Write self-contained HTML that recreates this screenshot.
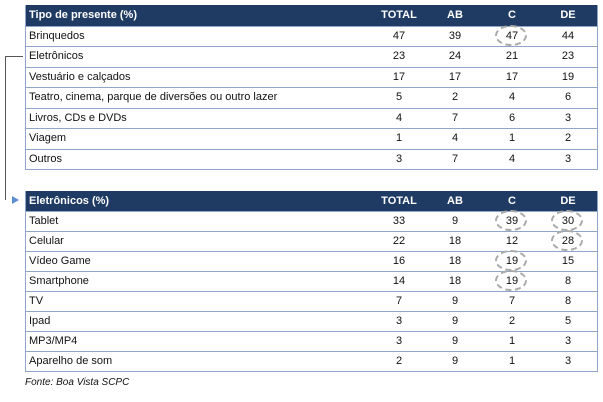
<!DOCTYPE html>
<html><head><meta charset="utf-8"><style>
body{margin:0;width:603px;height:402px;background:#fff;position:relative;font-family:"Liberation Sans",sans-serif;font-size:11px;color:#111;overflow:hidden}
.t{position:absolute;left:25px;width:571px;border:1px solid #8fa6c8;border-top:none}
.r{height:19px;border-top:1px solid #8fa6c8;position:relative;line-height:19px}
#a .r{height:19.5px;line-height:19.5px}
.h{background:#1f3b63;color:#fff;font-weight:bold;border-top:1px solid #1f3b63}
.r span{position:absolute;top:0}
.l{left:3px}
.c{width:40px;text-align:center}
.c1{left:353px}.c2{left:409px}.c3{left:466px}.c4{left:522px}
.o{position:absolute;width:28px;height:17px;border:2px dashed #aaa;border-radius:50%}
</style></head><body>
<div class="t" id="a" style="top:5px">
<div class="r h"><span class="l">Tipo de presente (%)</span><span class="c c1">TOTAL</span><span class="c c2">AB</span><span class="c c3">C</span><span class="c c4">DE</span></div>
<div class="r"><span class="l">Brinquedos</span><span class="c c1">47</span><span class="c c2">39</span><span class="c c3">47</span><span class="c c4">44</span></div>
<div class="r"><span class="l">Eletrônicos</span><span class="c c1">23</span><span class="c c2">24</span><span class="c c3">21</span><span class="c c4">23</span></div>
<div class="r"><span class="l">Vestuário e calçados</span><span class="c c1">17</span><span class="c c2">17</span><span class="c c3">17</span><span class="c c4">19</span></div>
<div class="r"><span class="l">Teatro, cinema, parque de diversões ou outro lazer</span><span class="c c1">5</span><span class="c c2">2</span><span class="c c3">4</span><span class="c c4">6</span></div>
<div class="r"><span class="l">Livros, CDs e DVDs</span><span class="c c1">4</span><span class="c c2">7</span><span class="c c3">6</span><span class="c c4">3</span></div>
<div class="r"><span class="l">Viagem</span><span class="c c1">1</span><span class="c c2">4</span><span class="c c3">1</span><span class="c c4">2</span></div>
<div class="r"><span class="l">Outros</span><span class="c c1">3</span><span class="c c2">7</span><span class="c c3">4</span><span class="c c4">3</span></div>
</div>
<div class="t" style="top:191px">
<div class="r h"><span class="l">Eletrônicos (%)</span><span class="c c1">TOTAL</span><span class="c c2">AB</span><span class="c c3">C</span><span class="c c4">DE</span></div>
<div class="r"><span class="l">Tablet</span><span class="c c1">33</span><span class="c c2">9</span><span class="c c3">39</span><span class="c c4">30</span></div>
<div class="r"><span class="l">Celular</span><span class="c c1">22</span><span class="c c2">18</span><span class="c c3">12</span><span class="c c4">28</span></div>
<div class="r"><span class="l">Vídeo Game</span><span class="c c1">16</span><span class="c c2">18</span><span class="c c3">19</span><span class="c c4">15</span></div>
<div class="r"><span class="l">Smartphone</span><span class="c c1">14</span><span class="c c2">18</span><span class="c c3">19</span><span class="c c4">8</span></div>
<div class="r"><span class="l">TV</span><span class="c c1">7</span><span class="c c2">9</span><span class="c c3">7</span><span class="c c4">8</span></div>
<div class="r"><span class="l">Ipad</span><span class="c c1">3</span><span class="c c2">9</span><span class="c c3">2</span><span class="c c4">5</span></div>
<div class="r"><span class="l">MP3/MP4</span><span class="c c1">3</span><span class="c c2">9</span><span class="c c3">1</span><span class="c c4">3</span></div>
<div class="r"><span class="l">Aparelho de som</span><span class="c c1">2</span><span class="c c2">9</span><span class="c c3">1</span><span class="c c4">3</span></div>
</div>
<div class="o" style="left:495px;top:25px"></div>
<div class="o" style="left:495px;top:210px"></div>
<div class="o" style="left:551px;top:210px"></div>
<div class="o" style="left:551px;top:230px"></div>
<div class="o" style="left:495px;top:250px"></div>
<div class="o" style="left:495px;top:270px"></div>
<div style="position:absolute;left:5px;top:56px;width:18px;height:1px;background:#555"></div>
<div style="position:absolute;left:5px;top:56px;width:1px;height:144px;background:#555"></div>
<div style="position:absolute;left:12px;top:196px;width:0;height:0;border-left:7px solid #5b8ed0;border-top:4px solid transparent;border-bottom:4px solid transparent"></div>
<div style="position:absolute;left:25px;top:377px;font-style:italic;font-size:10px">Fonte: Boa Vista SCPC</div>
</body></html>
